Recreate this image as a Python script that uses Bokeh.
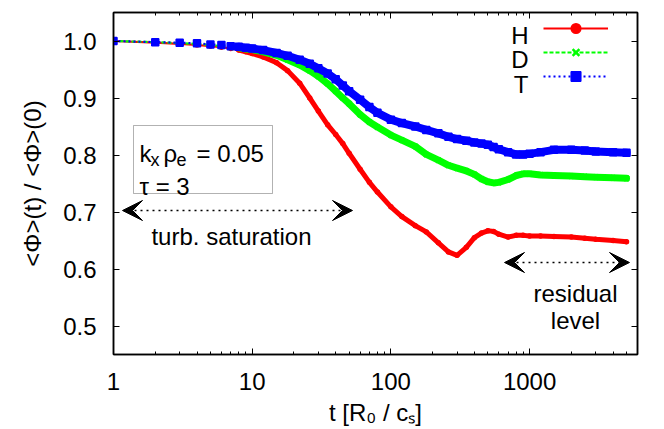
from bokeh.plotting import figure
from bokeh.models import (FixedTicker, LogAxis, LinearAxis, Range1d, Label,
                          BoxAnnotation, Arrow, VeeHead, Legend, LegendItem)
from bokeh.embed import file_html
from bokeh.resources import INLINE

# ---------------- data ----------------
t_values = [1, 2, 3, 4, 5, 6, 7, 8, 9, 10,
            12, 15, 18, 22, 26, 30, 35, 40, 45, 50,
            60, 70, 80, 100, 120, 150, 180, 220, 260, 300,
            350, 400, 450, 500, 550, 600, 700, 800, 900, 1000,
            1200, 1500, 2000, 2500, 3000, 4000, 5000]

h_values = [1.000, 0.997, 0.995, 0.993, 0.991, 0.989, 0.987, 0.984, 0.981, 0.978,
            0.972, 0.962, 0.948, 0.926, 0.900, 0.877, 0.853, 0.836, 0.820, 0.803,
            0.775, 0.752, 0.735, 0.709, 0.692, 0.676, 0.665, 0.646, 0.630, 0.624,
            0.638, 0.655, 0.663, 0.667, 0.666, 0.661, 0.656, 0.659, 0.659, 0.658,
            0.658, 0.657, 0.656, 0.654, 0.652, 0.650, 0.648]

d_values = [1.000, 0.998, 0.996, 0.995, 0.993, 0.991, 0.989, 0.988, 0.986, 0.985,
            0.981, 0.975, 0.967, 0.958, 0.948, 0.938, 0.925, 0.912, 0.900, 0.890,
            0.871, 0.858, 0.849, 0.835, 0.826, 0.815, 0.801, 0.791, 0.782, 0.777,
            0.772, 0.766, 0.758, 0.753, 0.751, 0.752, 0.757, 0.764, 0.767, 0.767,
            0.765, 0.764, 0.763, 0.762, 0.761, 0.760, 0.759]

tr_values = [1.000, 0.998, 0.997, 0.996, 0.994, 0.993, 0.991, 0.990, 0.988, 0.987,
             0.984, 0.979, 0.974, 0.967, 0.960, 0.952, 0.943, 0.933, 0.922, 0.912,
             0.897, 0.884, 0.874, 0.862, 0.856, 0.850, 0.844, 0.838, 0.832, 0.828,
             0.825, 0.822, 0.820, 0.818, 0.814, 0.810, 0.805, 0.801, 0.801, 0.802,
             0.805, 0.809, 0.809, 0.808, 0.806, 0.805, 0.804]

series_names = ["H", "D", "T"]

x_major_ticks = [1, 10, 100, 1000]
x_major_labels = ["1", "10", "100", "1000"]
x_minor_ticks = [2, 3, 4, 5, 6, 7, 8, 9,
                 20, 30, 40, 50, 60, 70, 80, 90,
                 200, 300, 400, 500, 600, 700, 800, 900,
                 2000, 3000, 4000, 5000]
y_major_ticks = [0.5, 0.6, 0.7, 0.8, 0.9, 1.0]
y_major_labels = ["0.5", "0.6", "0.7", "0.8", "0.9", "1.0"]

# ---------------- styling ----------------
FONT = "Liberation Sans"
FS = "24px"
SUB_FS = "18px"

p = figure(width=658, height=428, x_axis_type="log",
           x_range=Range1d(1, 6000), y_range=Range1d(0.45, 1.05),
           output_backend="svg", toolbar_location=None,
           min_border_left=113, min_border_right=21,
           min_border_top=12, min_border_bottom=72)

p.xgrid.visible = False
p.ygrid.visible = False
p.outline_line_color = "black"
p.outline_line_width = 1.5
p.background_fill_color = "white"
p.border_fill_color = "white"


def style_axis(ax, show_labels):
    ax.axis_line_color = "black"
    ax.axis_line_width = 1.5
    ax.major_tick_line_color = "black"
    ax.minor_tick_line_color = "black"
    ax.major_tick_in = 6
    ax.major_tick_out = 0
    ax.minor_tick_in = 3
    ax.minor_tick_out = 0
    ax.major_label_text_font = FONT
    ax.major_label_text_color = "black"
    if show_labels:
        ax.major_label_text_font_size = FS
    else:
        ax.major_label_text_font_size = "1px"
        ax.major_label_text_alpha = 0
        ax.major_label_standoff = 0


xt = FixedTicker(ticks=x_major_ticks, minor_ticks=x_minor_ticks)
yt = FixedTicker(ticks=y_major_ticks, minor_ticks=[])

xa = p.xaxis[0]
xa.ticker = xt
xa.major_label_overrides = dict(zip(x_major_ticks, x_major_labels))
style_axis(xa, True)
xa.major_label_standoff = 18
xa.axis_label = "t [R₀ / cₛ]"
xa.axis_label_text_font = FONT
xa.axis_label_text_font_size = FS
xa.axis_label_text_font_style = "normal"
xa.axis_label_text_color = "black"
xa.axis_label_standoff = 6

ya = p.yaxis[0]
ya.ticker = yt
ya.major_label_overrides = dict(zip(y_major_ticks, y_major_labels))
style_axis(ya, True)
ya.major_label_standoff = 17
ya.axis_label = "<Φ>(t) / <Φ>(0)"
ya.axis_label_text_font = FONT
ya.axis_label_text_font_size = FS
ya.axis_label_text_font_style = "normal"
ya.axis_label_text_color = "black"
ya.axis_label_standoff = 14

top_axis = LogAxis(ticker=FixedTicker(ticks=x_major_ticks, minor_ticks=x_minor_ticks))
style_axis(top_axis, False)
p.add_layout(top_axis, "above")
right_axis = LinearAxis(ticker=FixedTicker(ticks=y_major_ticks, minor_ticks=[]))
style_axis(right_axis, False)
p.add_layout(right_axis, "right")

# ---------------- series ----------------
colors = ["#ff0000", "#00ff00", "#0000ff"]
dashes = ["solid", "4 2", "2 3"]
markers = ["circle", "x", "square"]
msizes = [4, 7, 7]
band_widths = [5, 7, 8]
all_vals = [h_values, d_values, tr_values]

band_start = t_values.index(8)
legend_items = []
for name, vals, col, dash, mk, ms, bw in zip(series_names, all_vals, colors,
                                            dashes, markers, msizes, band_widths):
    p.line(t_values[band_start:], vals[band_start:], line_color=col,
           line_width=bw, line_join="round", line_cap="round")
    ln = p.line(t_values, vals, line_color=col, line_width=2.2, line_dash=dash)
    if mk == "x":
        sc = p.scatter(t_values, vals, marker=mk, size=ms, line_color=col,
                       line_width=2.5)
    else:
        sc = p.scatter(t_values, vals, marker=mk, size=ms, fill_color=col,
                       line_color=col, line_width=1.5)
    legend_items.append(LegendItem(label=" ", renderers=[ln, sc]))

legend = Legend(items=legend_items, location=(430, 266), orientation="vertical",
                glyph_width=65, glyph_height=24, label_height=24, label_width=2,
                label_standoff=0, spacing=0, padding=0, margin=0,
                label_text_font_size="10px",
                background_fill_alpha=0, border_line_alpha=0)
p.add_layout(legend, "center")

for name, ybase in zip(series_names, [319, 295, 270]):
    p.add_layout(Label(x=415, y=ybase, x_units="screen", y_units="screen",
                       text=name, text_align="right", text_baseline="alphabetic",
                       text_font=FONT, text_font_size=FS, text_color="black"))

# ---------------- annotations ----------------
p.add_layout(BoxAnnotation(left=20, right=159, bottom=161, top=229,
                           left_units="screen", right_units="screen",
                           bottom_units="screen", top_units="screen",
                           fill_alpha=0, line_color="black", line_width=1))


def txt(x, y, s, size=FS, align="left"):
    p.add_layout(Label(x=x, y=y, x_units="screen", y_units="screen", text=s,
                       text_align=align, text_baseline="alphabetic",
                       text_font=FONT, text_font_size=size, text_color="black"))


# k_x rho_e = 0.05
txt(26, 201, "k")
txt(37, 195, "x", SUB_FS)
txt(50, 201, "ρ")
txt(63, 195, "e", SUB_FS)
txt(83, 201, "= 0.05")
# tau = 3
txt(26, 168, "τ = 3")

head = dict(size=20, fill_color="black", line_color="black", line_width=1)
# turbulence saturation arrow
p.add_layout(Arrow(start=VeeHead(**head), end=VeeHead(**head),
                   x_start=9, y_start=144, x_end=239, y_end=144,
                   start_units="screen", end_units="screen",
                   line_color="black", line_width=1.5, line_dash="2 4"))
txt(118, 118, "turb. saturation", align="center")

# residual level arrow
p.add_layout(Arrow(start=VeeHead(**head), end=VeeHead(**head),
                   x_start=391, y_start=92, x_end=516, y_end=92,
                   start_units="screen", end_units="screen",
                   line_color="black", line_width=1.5, line_dash="2 4"))
txt(462, 61, "residual", align="center")
txt(462, 34, "level", align="center")

open("out.html", "w").write(file_html(p, INLINE))
